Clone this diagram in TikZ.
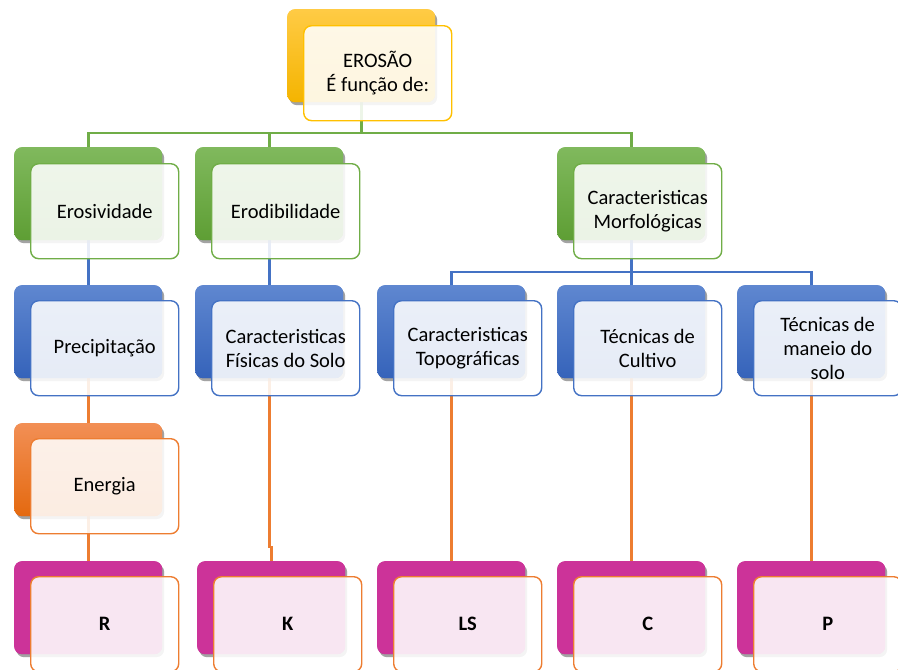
\documentclass[tikz,border=0pt]{standalone}
\usepackage{fontspec}
\setmainfont{Carlito}
\usetikzlibrary{shadows,calc}
\definecolor{yelT}{HTML}{FFCB45}
\definecolor{yelB}{HTML}{F4B400}
\definecolor{yelD}{HTML}{FFC000}
\definecolor{grnT}{HTML}{80B95D}
\definecolor{grnB}{HTML}{5E9E34}
\definecolor{grnD}{HTML}{70AD47}
\definecolor{bluT}{HTML}{5F87D0}
\definecolor{bluB}{HTML}{3563BA}
\definecolor{bluD}{HTML}{4472C4}
\definecolor{orgT}{HTML}{F28F55}
\definecolor{orgB}{HTML}{E4690F}
\definecolor{orgD}{HTML}{ED7D31}
\definecolor{magD}{HTML}{CC3399}
\tikzset{
  x=1pt, y=1pt,
  backbox/.style={rounded corners=8pt, minimum width=148pt, minimum height=93pt,
    anchor=north west, inner sep=0pt,
    drop shadow={shadow xshift=2pt, shadow yshift=-3pt, opacity=0.3, fill=black!70}},
  frontbox/.style={draw, line width=1.4pt, rounded corners=8pt, fill=white,
    fill opacity=0.88, text opacity=1, minimum width=148pt, minimum height=95pt,
    anchor=north west, inner sep=0pt, align=center,
    font=\fontsize{20.5}{24}\selectfont},
  yback/.style={backbox, top color=yelT, bottom color=yelB},
  gback/.style={backbox, top color=grnT, bottom color=grnB},
  bback/.style={backbox, top color=bluT, bottom color=bluB},
  oback/.style={backbox, top color=orgT, bottom color=orgB},
  mback/.style={backbox, fill=magD},
  yfront/.style={frontbox, draw=yelD},
  gfront/.style={frontbox, draw=grnD},
  bfront/.style={frontbox, draw=bluD},
  ofront/.style={frontbox, draw=orgD},
  gconn/.style={line width=2.7pt, draw=grnD},
  bconn/.style={line width=2.7pt, draw=bluD},
  oconn/.style={line width=2.7pt, draw=orgD},
}
\begin{document}
\begin{tikzpicture}
\useasboundingbox (0,0) rectangle (898,-670);
% back boxes (named, used as connector anchors)
\node[yback] (topB) at (287,-9) {};
\node[gback] (erosvB) at (14,-147) {};
\node[gback] (erodB) at (195,-147) {};
\node[gback] (morfB) at (557,-147) {};
\node[bback] (precB) at (14,-285) {};
\node[bback] (cfisB) at (195,-285) {};
\node[bback] (topoB) at (377,-285) {};
\node[bback] (cultB) at (557,-285) {};
\node[bback] (manB) at (737,-285) {};
\node[oback] (enerB) at (14,-423) {};
\node[mback] (rB) at (14,-561) {};
\node[mback] (kB) at (197,-561) {};
\node[mback] (lsB) at (377,-561) {};
\node[mback] (cB) at (557,-561) {};
\node[mback] (pB) at (737,-561) {};
% connectors
\coordinate (gy) at (0,-133);
\coordinate (by) at (0,-272);
\coordinate (ky) at (0,-547);
\draw[gconn] (topB.south) |- (gy -| erosvB.north) -- (erosvB.north);
\draw[gconn] (topB.south) |- (gy -| erodB.north) -- (erodB.north);
\draw[gconn] (topB.south) |- (gy -| morfB.north) -- (morfB.north);
\draw[bconn] (erosvB.south) -- (precB.north);
\draw[bconn] (erodB.south) -- (cfisB.north);
\draw[bconn] (morfB.south) |- (by -| topoB.north) -- (topoB.north);
\draw[bconn] (morfB.south) |- (by -| cultB.north) -- (cultB.north);
\draw[bconn] (morfB.south) |- (by -| manB.north) -- (manB.north);
\draw[oconn] (precB.south) -- (enerB.north);
\draw[oconn] (enerB.south) -- (rB.north);
\draw[oconn] (cfisB.south) -- (cfisB.south |- ky) -| (kB.north);
\draw[oconn] (topoB.south) -- (lsB.north);
\draw[oconn] (cultB.south) -- (cB.north);
\draw[oconn] (manB.south) -- (pB.north);
% redraw back boxes above connectors
\node[yback] at (287,-9) {};
\node[gback] at (14,-147) {};
\node[gback] at (195,-147) {};
\node[gback] at (557,-147) {};
\node[bback] at (14,-285) {};
\node[bback] at (195,-285) {};
\node[bback] at (377,-285) {};
\node[bback] at (557,-285) {};
\node[bback] at (737,-285) {};
\node[oback] at (14,-423) {};
\node[mback] at (14,-561) {};
\node[mback] at (197,-561) {};
\node[mback] at (377,-561) {};
\node[mback] at (557,-561) {};
\node[mback] at (737,-561) {};
% front boxes
\node[yfront] (top) at (303,-25) {EROSÃO\\É função de:};
\node[gfront] (erosv) at (30,-163) {Erosividade};
\node[gfront] (erod) at (211,-163) {Erodibilidade};
\node[gfront] (morf) at (573,-163) {Caracteristicas\\Morfológicas};
\node[bfront] (prec) at (30,-300) {Precipitação};
\node[bfront] (cfis) at (211,-300) {Caracteristicas\\Físicas do Solo};
\node[bfront] (topo) at (393,-300) {Caracteristicas\\Topográficas};
\node[bfront] (cult) at (573,-300) {Técnicas de\\Cultivo};
\node[bfront] (man) at (753,-300) {Técnicas de\\maneio do\\solo};
\node[ofront] (ener) at (30,-438) {Energia};
\node[ofront] (r) at (30,-576) {\textbf{R}};
\node[ofront] (k) at (213,-576) {\textbf{K}};
\node[ofront] (ls) at (393,-576) {\textbf{LS}};
\node[ofront] (c) at (573,-576) {\textbf{C}};
\node[ofront] (p) at (753,-576) {\textbf{P}};
\end{tikzpicture}
\end{document}
